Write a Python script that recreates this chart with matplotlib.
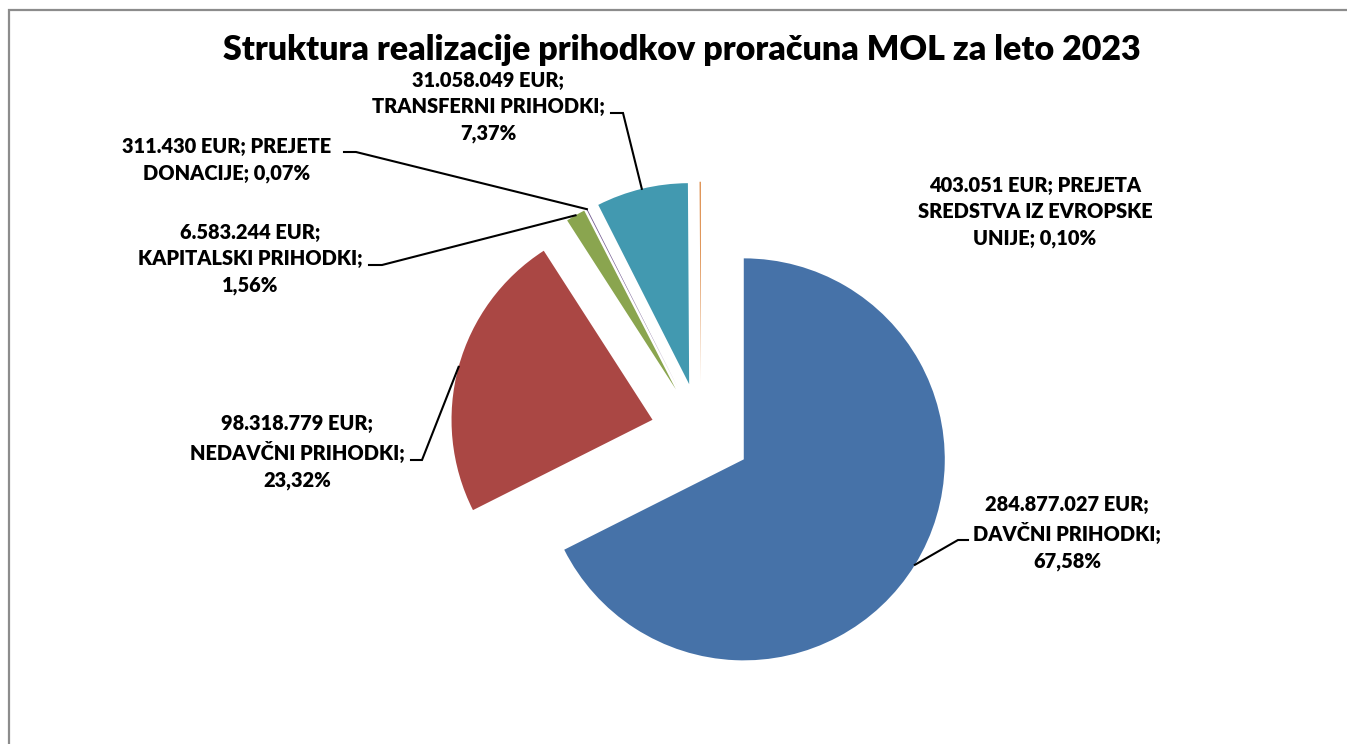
import matplotlib
matplotlib.use("Agg")
import matplotlib.pyplot as plt
from matplotlib.patches import Rectangle
import numpy as np

plt.rcParams['font.family'] = ['Lato', 'DejaVu Sans']

title = "Struktura realizacije prihodkov proračuna MOL za leto 2023"
categories = ["DAVČNI PRIHODKI", "NEDAVČNI PRIHODKI", "KAPITALSKI PRIHODKI",
              "PREJETE DONACIJE", "TRANSFERNI PRIHODKI", "PREJETA SREDSTVA IZ EVROPSKE UNIJE"]
amounts = ["284.877.027", "98.318.779", "6.583.244", "311.430", "31.058.049", "403.051"]
shares = [67.58, 23.32, 1.56, 0.07, 7.37, 0.10]
colors = ["#4672A8", "#AA4744", "#8AA54F", "#71598F", "#4299B0", "#DB843D"]
label_texts = [
    "284.877.027 EUR;\nDAVČNI PRIHODKI;\n67,58%",
    "98.318.779 EUR;\nNEDAVČNI PRIHODKI;\n23,32%",
    "6.583.244 EUR;\nKAPITALSKI PRIHODKI;\n1,56%",
    "311.430 EUR; PREJETE\nDONACIJE; 0,07%",
    "31.058.049 EUR;\nTRANSFERNI PRIHODKI;\n7,37%",
    "403.051 EUR; PREJETA\nSREDSTVA IZ EVROPSKE\nUNIJE; 0,10%",
]

W, H = 1347, 744
R_PX = 201.0
CX, CY = 701.0, 433.0

def px(x, y):
    return ((x - CX) / R_PX, (CY - y) / R_PX)

fig = plt.figure(figsize=(W / 100, H / 100), dpi=100)
fig.patch.set_facecolor("white")
ax = fig.add_axes([0, 0, 1, 1])

explode = [0.25] * len(shares)
wedges, _ = ax.pie(shares, colors=colors, startangle=90, counterclock=False,
                   explode=explode, radius=1.0,
                   wedgeprops=dict(edgecolor="none", linewidth=0))
ax.set_aspect("auto")
x0, y0 = px(0, H)
x1, y1 = px(W, 0)
ax.set_xlim(x0, x1)
ax.set_ylim(y0, y1)
ax.axis("off")

# outer frame (chart area border)
fx, fy = px(9, 10)
ax.add_patch(Rectangle((fx, y0 - 1), x1 - fx + 1, fy - y0 + 1, fill=False,
                       edgecolor="#8C8C8C", linewidth=1.6, clip_on=False))

ax.text(*px(682, 50), title, ha="center", va="center", fontsize=24.5,
        fontweight="heavy", color="black")

# label layout: text center, leader line start (text side) and elbow
label_pos = [(1067, 533), (297, 452), (250, 259), (227, 160), (488, 107), (1035, 212)]
leaders = [((968, 540), (958, 540)), ((411, 460), (422, 460)), ((369, 265), (382, 265)),
           ((344, 152), (356, 152)), ((611, 113), (623, 113)), None]

for w, txt, pos, ld in zip(wedges, label_texts, label_pos, leaders):
    ax.text(*px(*pos), txt, ha="center", va="center", fontsize=14.4,
            fontweight="heavy", color="black", linespacing=1.45)
    if ld is None:
        continue
    theta = np.deg2rad((w.theta1 + w.theta2) / 2)
    cx, cy = w.center
    tx, ty = cx + w.r * np.cos(theta), cy + w.r * np.sin(theta)
    a = px(*ld[0])
    b = px(*ld[1])
    ax.plot([a[0], b[0], tx], [a[1], b[1], ty], color="black", linewidth=1.5,
            solid_joinstyle="miter")

fig.savefig("out.png", dpi=100, facecolor="white")
